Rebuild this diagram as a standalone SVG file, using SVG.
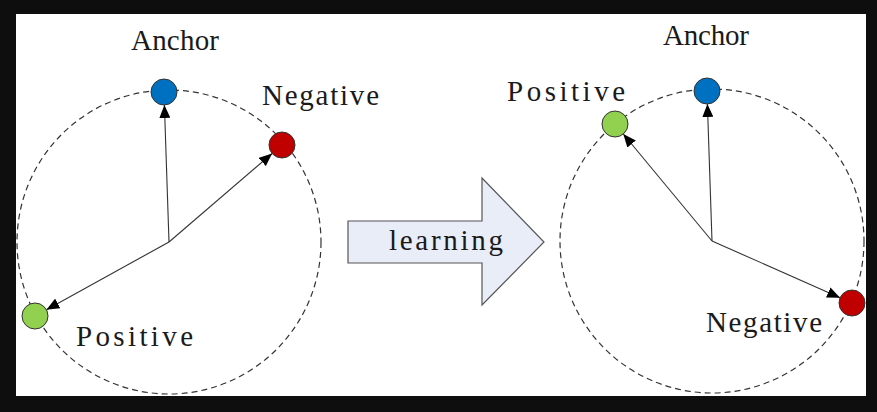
<svg xmlns="http://www.w3.org/2000/svg" width="877" height="412" viewBox="0 0 877 412">
<defs>
<style>
.lbl{font-family:"Liberation Serif","DejaVu Serif",serif;font-size:29px;fill:#1a1a1a;}
.ring{fill:none;stroke:#333;stroke-width:1.2;stroke-dasharray:6 4;}
.node{stroke:#333;stroke-width:1;}
.edge{stroke:#333;stroke-width:1.1;fill:none;marker-end:url(#ah);}
</style>
<marker id="ah" markerUnits="userSpaceOnUse" markerWidth="13" markerHeight="11" refX="13" refY="5.5" orient="auto" viewBox="0 0 13 11">
<path d="M0,0 L13,5.5 L0,11 z" fill="#000"/>
</marker>
</defs>
<rect x="0" y="0" width="877" height="412" fill="#0e0e0e"/>
<rect x="16" y="14" width="850" height="382" fill="#fff"/>
<circle class="ring" cx="169" cy="242" r="152"/>
<circle class="ring" cx="712" cy="241" r="152"/>
<g id="connectors">
<line class="edge" x1="169" y1="242" x2="164.4" y2="105"/>
<line class="edge" x1="169" y1="242" x2="272.1" y2="153.5"/>
<line class="edge" x1="169" y1="242" x2="46.4" y2="309.7"/>
<line class="edge" x1="712" y1="241" x2="707.4" y2="104"/>
<line class="edge" x1="712" y1="241" x2="623.3" y2="134"/>
<line class="edge" x1="712" y1="241" x2="840.1" y2="297.7"/>
</g>
<g id="left-anchor"><circle class="node" cx="164" cy="92" r="13" fill="#0070c0"/><text class="lbl" x="131" y="50" textLength="88" lengthAdjust="spacing">Anchor</text></g>
<g id="left-negative"><circle class="node" cx="282" cy="145" r="13" fill="#c00000"/><text class="lbl" x="262" y="105" textLength="117" lengthAdjust="spacing">Negative</text></g>
<g id="left-positive"><circle class="node" cx="35" cy="316" r="13" fill="#92d050"/><text class="lbl" x="76" y="346" textLength="117" lengthAdjust="spacing">Positive</text></g>
<g id="learning-arrow"><path d="M348,221 L482,221 L482,178 L544,242 L482,305 L482,263 L348,263 Z" fill="#e9edf8" stroke="#555" stroke-width="1.2"/><text class="lbl" x="389" y="250" textLength="114" lengthAdjust="spacing">learning</text></g>
<g id="right-anchor"><circle class="node" cx="707" cy="91" r="13" fill="#0070c0"/><text class="lbl" x="663" y="45" textLength="86" lengthAdjust="spacing">Anchor</text></g>
<g id="right-positive"><circle class="node" cx="615" cy="124" r="13" fill="#92d050"/><text class="lbl" x="507" y="101" textLength="118" lengthAdjust="spacing">Positive</text></g>
<g id="right-negative"><circle class="node" cx="852" cy="303" r="13" fill="#c00000"/><text class="lbl" x="706" y="332" textLength="116" lengthAdjust="spacing">Negative</text></g>
</svg>
